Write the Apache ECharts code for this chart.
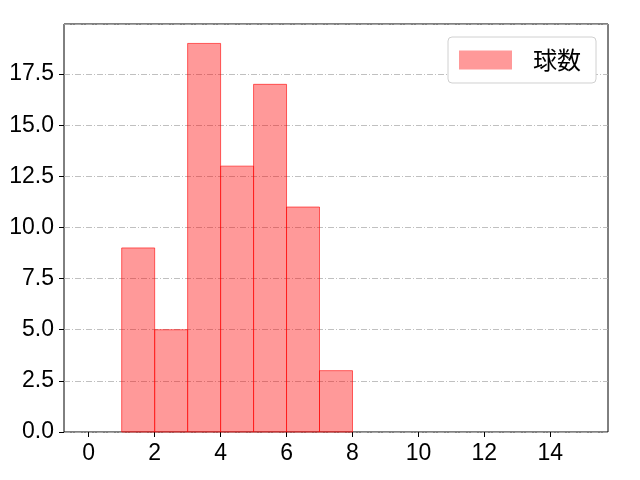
<!DOCTYPE html>
<html><head><meta charset="utf-8">
<script src="https://cdn.jsdelivr.net/npm/echarts@6/dist/echarts.min.js"></script>
<style>html,body{margin:0;padding:0;background:#fff}#c{width:640px;height:480px}</style>
</head><body><div id="c"></div>
<script>
const binStarts = [1, 2, 3, 4, 5, 6, 7];
const binWidth = 1;
const counts = [9, 5, 19, 13, 17, 11, 3];
const xTicks = [0, 2, 4, 6, 8, 10, 12, 14];
const seriesName = '球数';

const FONT = '"Noto Sans CJK JP", "Noto Sans", sans-serif';
const NUMFONT = '"Liberation Sans", Arial, sans-serif';
const chart = echarts.init(document.getElementById('c'));
const data = binStarts.map((s, i) => [s, s + binWidth, counts[i]]);
chart.setOption({
  animation: false,
  grid: { left: 64, right: 32, top: 24, bottom: 48, show: true, borderColor: '#000', borderWidth: 1, backgroundColor: 'transparent' },
  xAxis: {
    type: 'value', min: -0.75, max: 15.75,
    axisLine: { show: false, onZero: false },
    axisTick: { show: true, customValues: xTicks, length: 5, lineStyle: { color: '#000' } },
    axisLabel: { customValues: xTicks, color: '#000', fontSize: 23, fontFamily: NUMFONT, margin: 10 },
    splitLine: { show: false }
  },
  yAxis: {
    type: 'value', min: 0, max: 19.95, interval: 2.5,
    axisLine: { show: false, onZero: false },
    axisTick: { show: true, length: 5, lineStyle: { color: '#000' } },
    axisLabel: { color: '#000', fontSize: 23, fontFamily: NUMFONT, margin: 10, showMaxLabel: false,
      formatter: v => v.toFixed(1) },
    splitLine: { show: true, lineStyle: { color: '#b0b0b0', width: 0.8, type: [6, 2, 1, 2] } }
  },
  legend: {
    right: 44, top: 37,
    data: [seriesName],
    orient: 'vertical',
    backgroundColor: '#fff',
    borderColor: '#d0d0d0', borderWidth: 1, borderRadius: 4,
    padding: [11, 15, 11, 11],
    itemWidth: 53, itemHeight: 19, itemGap: 0,
    textStyle: { fontSize: 24, fontFamily: FONT, color: '#000', padding: [0, 0, 0, 16] },
    icon: 'rect'
  },
  series: [{
    name: seriesName,
    type: 'custom',
    itemStyle: { color: 'rgba(255,0,0,0.4)', borderColor: 'rgba(255,0,0,0.6)' },
    renderItem: (params, api) => {
      const p0 = api.coord([api.value(0), api.value(2)]);
      const p1 = api.coord([api.value(1), 0]);
      return {
        type: 'rect',
        shape: { x: p0[0], y: p0[1], width: p1[0] - p0[0], height: p1[1] - p0[1] },
        style: { fill: 'rgba(255,0,0,0.4)', stroke: 'rgba(255,0,0,0.6)', lineWidth: 1 }
      };
    },
    encode: { x: [0, 1], y: 2 },
    data: data
  }]
});
</script></body></html>
